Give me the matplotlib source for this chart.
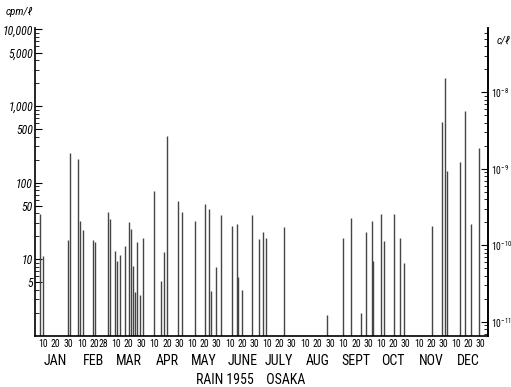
import matplotlib

matplotlib.use("Agg")
import matplotlib.pyplot as plt  # noqa: E402
import numpy as np  # noqa: E402
from matplotlib import font_manager as fm  # noqa: E402
from matplotlib.ticker import FixedLocator, LogLocator, NullFormatter  # noqa: E402

# rain activity, Osaka 1955 (day of year, cpm per litre)
days = [7, 10, 30, 32, 38, 40, 42, 50, 52, 62, 64, 68, 70, 72, 76, 79, 81, 83,
        84, 86, 88, 91, 100, 105, 108, 110, 119, 122, 133, 141, 144, 146, 150,
        154, 163, 167, 168, 171, 179, 185, 188, 190, 205, 240, 253, 259, 267,
        271, 276, 277, 283, 286, 294, 299, 302, 325, 333, 335, 337, 347, 351,
        356, 363]
cpm = [39, 11, 18, 245, 205, 32, 24, 18, 17, 41, 34, 13, 9.4, 11.3, 15, 31,
       24.5, 8.1, 3.8, 16.6, 3.4, 18.8, 79, 5.2, 12.3, 406, 57, 41, 31.5, 53,
       46, 3.9, 7.9, 38, 27, 29, 5.8, 4.0, 38, 18.2, 22.6, 18.8, 26.3, 1.9, 19,
       35, 2.0, 22.4, 32, 9.5, 39.5, 17.3, 39, 19, 8.9, 27, 624, 2300, 143, 189,
       870, 29, 287]

months = ["JAN", "FEB", "MAR", "APR", "MAY", "JUNE", "JULY", "AUG", "SEPT",
          "OCT", "NOV", "DEC"]
month_len = [31, 28, 31, 30, 31, 30, 31, 31, 30, 31, 30, 31]
left_ticks = [5, 10, 50, 100, 500, 1000, 5000, 10000]
left_labels = ["5", "10", "50", "100", "500", "1,000", "5,000", "10,000"]
right_ticks = [1e-11, 1e-10, 1e-9, 1e-8]
CPM_PER_C = 1.52e11  # cpm/l that matches 1 c/l on the right scale


def pick_font(names):
    for n in names:
        try:
            fm.findfont(fm.FontProperties(family=n), fallback_to_default=False)
            return n
        except ValueError:
            continue
    return "DejaVu Sans"


NARROW = pick_font(["Liberation Sans Narrow", "Roboto Condensed",
                    "Open Sans Condensed", "Roboto"])
plt.rcParams["font.family"] = [NARROW, "DejaVu Sans"]
plt.rcParams["mathtext.fontset"] = "custom"
plt.rcParams["mathtext.rm"] = NARROW

fig = plt.figure(figsize=(5.11, 3.87), dpi=100)
ax = fig.add_axes([0.0685, 0.132, 0.8865, 0.796])

ax.vlines(days, 1, cpm, color="#454545", lw=1.0)

ax.set_yscale("log")
ax.set_ylim(1, 1.05e4)
ax.set_xlim(3.3, 370)
ax.spines["top"].set_visible(False)
for s in ("left", "bottom", "right"):
    ax.spines[s].set_linewidth(1.2)

ax.yaxis.set_major_locator(FixedLocator(left_ticks))
ax.set_yticklabels(left_labels, fontsize=8.5, style="italic")
ax.yaxis.set_minor_locator(LogLocator(base=10, subs=np.arange(2, 10)))
ax.yaxis.set_minor_formatter(NullFormatter())
ax.tick_params(axis="y", which="major", direction="in", length=5, pad=1.5)
ax.tick_params(axis="y", which="minor", direction="in", length=3)

# day labels under the baseline, month names below them
starts = np.cumsum([0] + month_len[:-1])
xt, xl = [], []
for m, st in enumerate(starts):
    for d in (10, 20, 28 if m == 1 else 30):
        xt.append(st + d)
        xl.append(str(d))
ax.set_xticks(xt)
ax.set_xticklabels(xl, fontsize=7)
ax.tick_params(axis="x", length=0, pad=2)
for m, st in enumerate(starts):
    ax.text(st + 20, -0.08, months[m], transform=ax.get_xaxis_transform(),
            ha="center", va="center", fontsize=10)
ax.text(0.475, -0.142, "RAIN 1955    OSAKA", transform=ax.transAxes,
        ha="center", va="center", fontsize=10)

sec = ax.secondary_yaxis("right", functions=(lambda v: v / CPM_PER_C,
                                              lambda v: v * CPM_PER_C))
sec.set_yscale("log")
sec.yaxis.set_major_locator(FixedLocator(right_ticks))
sec.set_yticklabels([r"$10^{-11}$", r"$10^{-10}$", r"$10^{-9}$", r"$10^{-8}$"],
                    fontsize=7)
sec.yaxis.set_minor_locator(LogLocator(base=10, subs=np.arange(2, 10)))
sec.yaxis.set_minor_formatter(NullFormatter())
sec.tick_params(which="major", direction="in", length=5, pad=2)
sec.tick_params(which="minor", direction="in", length=3)
sec.spines["right"].set_linewidth(1.2)

fig.text(0.012, 0.968, "cpm/ℓ", fontsize=8, style="italic", va="center")
fig.text(0.972, 0.895, "c/ℓ", fontsize=8, style="italic", va="center")

fig.savefig("out.png", dpi=100)
